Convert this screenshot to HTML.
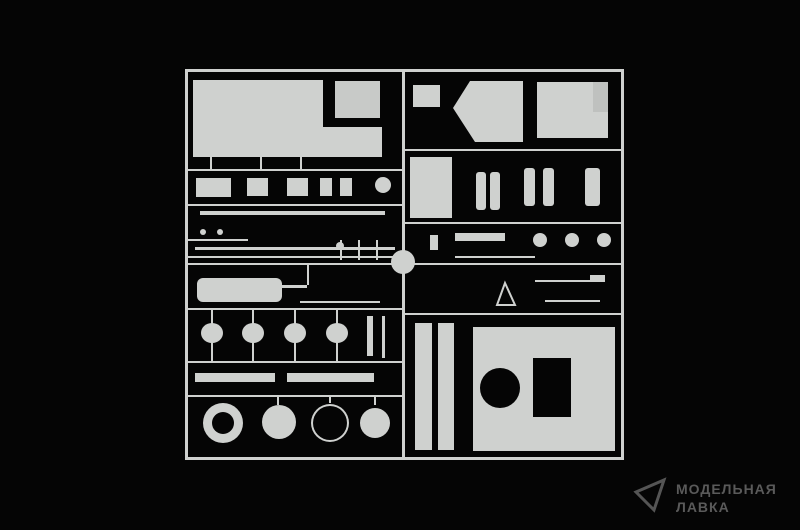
<!DOCTYPE html>
<html><head><style>
html,body{margin:0;padding:0;background:#040404;}
body{width:800px;height:530px;overflow:hidden;position:relative;font-family:"Liberation Sans",sans-serif;}
</style></head><body>
<svg width="800" height="530" viewBox="0 0 800 530" style="position:absolute;left:0;top:0">
<rect width="800" height="530" fill="#050505"/>
<g fill="#cfd1cf" stroke="none">
<!-- frame -->
<rect x="185" y="69" width="439" height="3" rx="1"/>
<rect x="185" y="457" width="439" height="3"/>
<rect x="185" y="69" width="3" height="391"/>
<rect x="621" y="69" width="3" height="391"/>
<rect x="402" y="69" width="3" height="391"/>
<!-- left rails -->
<rect x="185" y="169" width="220" height="2"/>
<rect x="185" y="204" width="220" height="2"/>
<rect x="188" y="239" width="60" height="2"/>
<rect x="188" y="256" width="214" height="2"/>
<rect x="185" y="263" width="220" height="2"/>
<rect x="185" y="308" width="220" height="2"/>
<rect x="185" y="361" width="220" height="2"/>
<rect x="185" y="395" width="220" height="2"/>
<!-- right rails -->
<rect x="402" y="149" width="222" height="2"/>
<rect x="402" y="222" width="222" height="2"/>
<rect x="402" y="263" width="222" height="2"/>
<rect x="402" y="313" width="222" height="2"/>
<!-- left top parts -->
<rect x="193" y="80" width="130" height="77"/>
<rect x="320" y="127" width="62" height="30"/>
<rect x="335" y="81" width="45" height="37" fill="#c8cac8"/>
<rect x="196" y="178" width="35" height="19"/>
<rect x="247" y="178" width="21" height="18"/>
<rect x="287" y="178" width="21" height="18"/>
<rect x="320" y="178" width="12" height="18"/>
<rect x="340" y="178" width="12" height="18"/>
<circle cx="383" cy="185" r="8"/>
<rect x="200" y="211" width="105" height="4"/>
<rect x="295" y="211" width="90" height="4"/>
<!-- small vertical stubs -->
<rect x="210" y="150" width="2" height="20"/><rect x="260" y="150" width="2" height="20"/><rect x="300" y="150" width="2" height="20"/>
<rect x="340" y="240" width="2" height="20"/><rect x="358" y="240" width="2" height="20"/><rect x="376" y="240" width="2" height="20"/>
<circle cx="340" cy="246" r="4"/><circle cx="203" cy="232" r="3"/><circle cx="220" cy="232" r="3"/>
<rect x="195" y="247" width="200" height="3"/>
<!-- sandbag -->
<rect x="197" y="278" width="85" height="24" rx="6"/>
<rect x="282" y="285" width="25" height="3"/>
<rect x="307" y="265" width="2" height="20"/>
<rect x="300" y="301" width="80" height="2"/>
<!-- heads -->
<ellipse cx="212" cy="333" rx="11" ry="10"/>
<ellipse cx="253" cy="333" rx="11" ry="10"/>
<ellipse cx="295" cy="333" rx="11" ry="10"/>
<ellipse cx="337" cy="333" rx="11" ry="10"/>
<rect x="211" y="310" width="2" height="52"/><rect x="252" y="310" width="2" height="52"/><rect x="294" y="310" width="2" height="52"/><rect x="336" y="310" width="2" height="52"/>
<rect x="367" y="316" width="6" height="40"/><rect x="382" y="316" width="3" height="42"/>
<!-- bars -->
<rect x="195" y="373" width="80" height="9"/>
<rect x="287" y="373" width="87" height="9"/>
<!-- bottom round parts -->
<circle cx="223" cy="423" r="20"/><circle cx="223" cy="423" r="11" fill="#050505"/>
<circle cx="279" cy="422" r="17"/>
<circle cx="330" cy="423" r="19"/><circle cx="330" cy="423" r="17" fill="#050505"/>
<circle cx="375" cy="423" r="15"/>
<rect x="277" y="397" width="2" height="8"/><rect x="329" y="397" width="2" height="6"/><rect x="374" y="397" width="2" height="8"/>
<!-- hub -->
<circle cx="403" cy="262" r="12"/>
<!-- right top -->
<rect x="413" y="85" width="27" height="22"/>
<polygon points="470,81 523,81 523,142 475,142 453,108"/>
<rect x="537" y="82" width="71" height="56"/>
<rect x="593" y="82" width="15" height="30" fill="#bfc1bf"/>
<rect x="410" y="157" width="42" height="61"/>
<rect x="476" y="172" width="10" height="38" rx="3"/><rect x="490" y="172" width="10" height="38" rx="3"/>
<rect x="524" y="168" width="11" height="38" rx="3"/><rect x="543" y="168" width="11" height="38" rx="3"/>
<rect x="585" y="168" width="15" height="38" rx="3"/>
<rect x="455" y="233" width="50" height="8"/>
<circle cx="540" cy="240" r="7"/><circle cx="572" cy="240" r="7"/><circle cx="604" cy="240" r="7"/>
<rect x="455" y="256" width="80" height="2"/>
<rect x="535" y="280" width="70" height="2"/><rect x="545" y="300" width="55" height="2"/>
<rect x="590" y="275" width="15" height="6"/>
<polygon points="505,283 497,305 515,305" fill="none" stroke="#cfd1cf" stroke-width="2"/>
<rect x="430" y="235" width="8" height="15"/>
<!-- strips -->
<rect x="415" y="323" width="17" height="127"/>
<rect x="438" y="323" width="16" height="127"/>
<!-- big panel -->
<rect x="473" y="327" width="142" height="124"/>
<circle cx="500" cy="388" r="20" fill="#050505"/>
<rect x="533" y="358" width="38" height="59" fill="#050505"/>
</g>
<g fill="#555" stroke="#555">
<polygon points="636,492 664,480 654,510" fill="none" stroke-width="3"/>
</g>
<text x="676" y="494" font-family="Liberation Sans,sans-serif" font-size="14" font-weight="bold" fill="#5a5a5a" letter-spacing="1">МОДЕЛЬНАЯ</text>
<text x="676" y="512" font-family="Liberation Sans,sans-serif" font-size="14" font-weight="bold" fill="#5a5a5a" letter-spacing="1">ЛАВКА</text>
</svg>
</body></html>
